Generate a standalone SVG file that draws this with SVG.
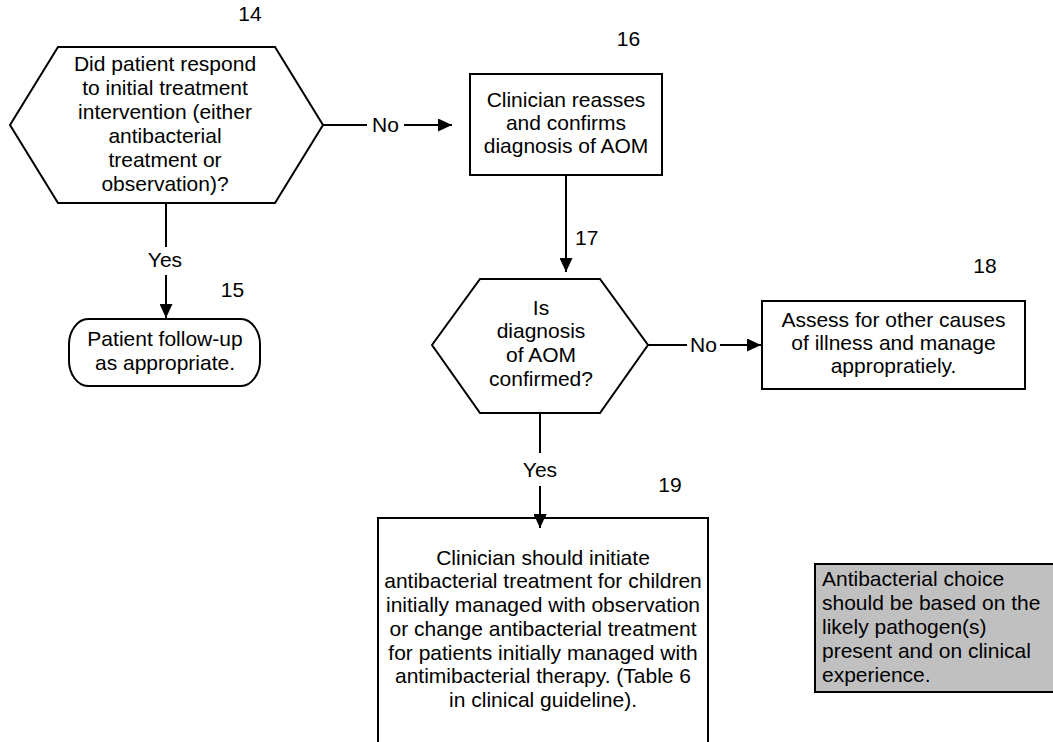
<svg xmlns="http://www.w3.org/2000/svg" width="1053" height="742" viewBox="0 0 1053 742">
<style>
.t{font-family:"Liberation Sans",Arial,sans-serif;font-size:21px;fill:#000;}
.c{text-anchor:middle;}
.s{fill:#fff;stroke:#000;stroke-width:2;}
.l{fill:none;stroke:#000;stroke-width:2;}
</style>
<defs>
<marker id="ah" markerUnits="userSpaceOnUse" markerWidth="14" markerHeight="13" refX="14" refY="6.5" orient="auto">
<path d="M0,0 L14,6.5 L0,13 z" fill="#000"/>
</marker>
</defs>
<rect width="1053" height="742" fill="#fff"/>
<g id="connectors">
<line class="l" x1="323" y1="125" x2="367" y2="125"/>
<text class="t c" x="385.5" y="132">No</text>
<line class="l" x1="404" y1="125" x2="452" y2="125" marker-end="url(#ah)"/>
<line class="l" x1="166" y1="203" x2="166" y2="247"/>
<text class="t c" x="165" y="267">Yes</text>
<line class="l" x1="166" y1="275" x2="166" y2="318" marker-end="url(#ah)"/>
<line class="l" x1="566" y1="175" x2="566" y2="272" marker-end="url(#ah)"/>
<line class="l" x1="648" y1="345" x2="687" y2="345"/>
<text class="t c" x="703.5" y="352">No</text>
<line class="l" x1="720" y1="345" x2="761" y2="345" marker-end="url(#ah)"/>
<line class="l" x1="540" y1="413" x2="540" y2="453"/>
<text class="t c" x="540" y="477">Yes</text>
<line class="l" x1="540" y1="486" x2="540" y2="528" marker-end="url(#ah)"/>
</g>
<g id="n14">
<text class="t c" x="250" y="21">14</text>
<polygon class="s" points="10,125 58,47 275,47 323,125 275,203 58,203"/>
<text class="t c" x="165" y="71">Did patient respond</text>
<text class="t c" x="165" y="95">to initial treatment</text>
<text class="t c" x="165" y="119">intervention (either</text>
<text class="t c" x="165" y="143">antibacterial</text>
<text class="t c" x="165" y="167">treatment or</text>
<text class="t c" x="165" y="191">observation)?</text>
</g>
<g id="n15">
<text class="t c" x="232.5" y="297">15</text>
<path class="s" d="M88,319 H241 C252,319 260,332 260,344 V361 C260,373 252,386 241,386 H88 C77,386 69,373 69,361 V344 C69,332 77,319 88,319 Z"/>
<text class="t c" x="165" y="346">Patient follow-up</text>
<text class="t c" x="165" y="370">as appropriate.</text>
</g>
<g id="n16">
<text class="t c" x="628.5" y="46">16</text>
<rect class="s" x="470" y="74" width="192" height="101"/>
<text class="t c" x="566" y="107">Clinician reasses</text>
<text class="t c" x="566" y="130">and confirms</text>
<text class="t c" x="566" y="153">diagnosis of AOM</text>
</g>
<g id="n17">
<text class="t" x="575" y="245">17</text>
<polygon class="s" points="432,345 480,279 600,279 648,345 600,413 480,413"/>
<text class="t c" x="541" y="315">Is</text>
<text class="t c" x="541" y="338">diagnosis</text>
<text class="t c" x="541" y="362">of AOM</text>
<text class="t c" x="541" y="386">confirmed?</text>
</g>
<g id="n18">
<text class="t c" x="985" y="273">18</text>
<rect class="s" x="762" y="301" width="263" height="88"/>
<text class="t c" x="893.5" y="327">Assess for other causes</text>
<text class="t c" x="893.5" y="350">of illness and manage</text>
<text class="t c" x="893.5" y="373">appropratiely.</text>
</g>
<g id="n19">
<text class="t c" x="670" y="492">19</text>
<rect class="s" x="378" y="518" width="330" height="240"/>
<line class="l" x1="540" y1="505" x2="540" y2="528" marker-end="url(#ah)"/>
<text class="t c" x="543" y="565">Clinician should initiate</text>
<text class="t c" x="543" y="588">antibacterial treatment for children</text>
<text class="t c" x="543" y="612">initially managed with observation</text>
<text class="t c" x="543" y="636">or change antibacterial treatment</text>
<text class="t c" x="543" y="660">for patients initially managed with</text>
<text class="t c" x="543" y="683">antimibacterial therapy. (Table 6</text>
<text class="t c" x="543" y="707">in clinical guideline).</text>
</g>
<g id="note">
<rect x="815" y="564" width="250" height="128" fill="#c0c0c0" stroke="#000" stroke-width="2"/>
<text class="t" x="822" y="586">Antibacterial choice</text>
<text class="t" x="822" y="610">should be based on the</text>
<text class="t" x="822" y="634">likely pathogen(s)</text>
<text class="t" x="822" y="658">present and on clinical</text>
<text class="t" x="822" y="682">experience.</text>
</g>
</svg>
